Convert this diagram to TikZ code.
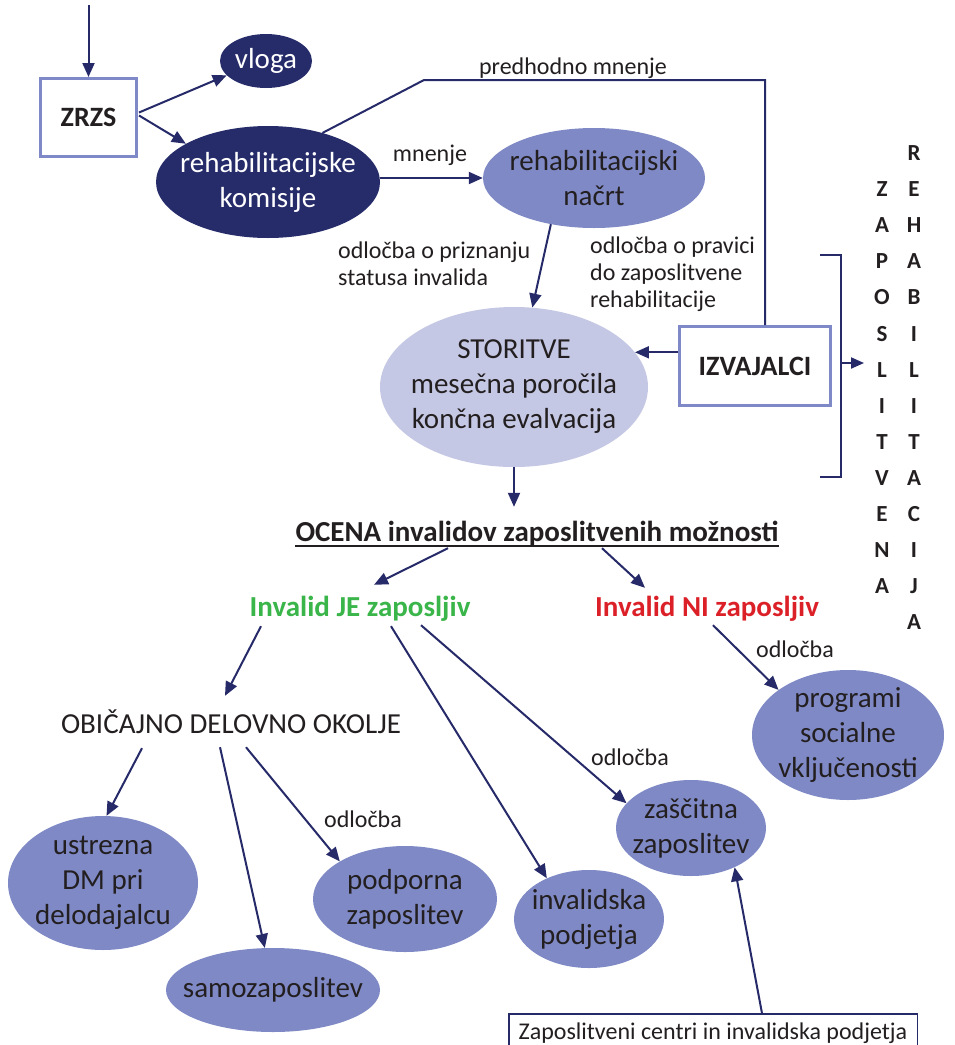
\documentclass[tikz,border=0pt]{standalone}
\usepackage{fontspec}
\setmainfont{Carlito}
\usetikzlibrary{shapes.geometric,arrows.meta,calc}
\definecolor{navy}{RGB}{38,42,104}
\definecolor{darkfill}{RGB}{38,43,105}
\definecolor{midfill}{RGB}{127,137,197}
\definecolor{lightfill}{RGB}{197,200,228}
\definecolor{boxline}{RGB}{128,137,200}
\definecolor{txt}{RGB}{35,31,32}
\definecolor{okgreen}{RGB}{57,181,74}
\definecolor{nored}{RGB}{220,32,40}
\begin{document}
\begin{tikzpicture}[x=1pt,y=-1pt,
  conn/.style={draw=navy,line width=2pt},
  arr/.style={conn,-{Triangle[length=14pt,width=12pt]}},
  ell/.style={ellipse,inner sep=-16pt,align=center,font=\fontsize{29}{35}\selectfont,text=txt},
  darkell/.style={ell,fill=darkfill,text=white},
  midell/.style={ell,fill=midfill},
  lightell/.style={ell,fill=lightfill},
  bigbox/.style={rectangle,draw=boxline,line width=3pt,fill=white,inner sep=0pt,font=\fontsize{28}{34}\selectfont\bfseries,text=txt},
  lbl/.style={inner sep=0pt,anchor=base,font=\fontsize{24}{27}\selectfont,text=txt},
  lblw/.style={lbl,anchor=base west},
  head/.style={inner sep=0pt,anchor=base,font=\fontsize{29}{35}\selectfont\bfseries,text=txt,text height=20pt,text depth=7pt},
  letter/.style={inner sep=0pt,font=\fontsize{23}{28}\selectfont\bfseries,text=txt,text height=15pt,text depth=0pt},
]
\useasboundingbox (0,0) rectangle (954,1045);
\clip (0,0) rectangle (954,1045);
\fill[white] (0,0) rectangle (954,1045);

% boxes and ellipses
\node[bigbox,minimum width=96pt,minimum height=78pt] (zrzs) at (88.5,117.5) {ZRZS};
\node[darkell,minimum width=92pt,minimum height=54pt] (vloga) at (266,61) {vloga};
\node[darkell,minimum width=224pt,minimum height=112pt] (kom) at (268,182) {rehabilitacijske\\komisije};
\node[midell,minimum width=222pt,minimum height=100pt] (nacrt) at (594,178) {rehabilitacijski\\načrt};
\node[lightell,minimum width=268pt,minimum height=160pt] (stor) at (514,387) {STORITVE\\mesečna poročila\\končna evalvacija};
\node[bigbox,minimum width=151pt,minimum height=79pt] (izv) at (755,366) {IZVAJALCI};

\node[head] (ocena) at (537,541) {OCENA invalidov zaposlitvenih možnosti};
\node[head,text=okgreen] (je) at (360,616) {Invalid JE zaposljiv};
\node[head,text=nored] (ni) at (707,616) {Invalid NI zaposljiv};
\node[inner sep=0pt,anchor=base,font=\fontsize{29}{35}\selectfont,text=txt,text height=19pt,text depth=0pt] (obic) at (231,733) {OBIČAJNO DELOVNO OKOLJE};

\node[midell,minimum width=190pt,minimum height=134pt] (ustr) at (103,883) {ustrezna\\DM pri\\delodajalcu};
\node[midell,minimum width=214pt,minimum height=84pt] (samo) at (273,990) {samozaposlitev};
\node[midell,minimum width=184pt,minimum height=106pt] (podp) at (405,899) {podporna\\zaposlitev};
\node[midell,minimum width=150pt,minimum height=98pt] (invpod) at (589,919) {invalidska\\podjetja};
\node[midell,minimum width=150pt,minimum height=96pt] (zasc) at (691,828) {zaščitna\\zaposlitev};
\node[midell,minimum width=192pt,minimum height=130pt] (prog) at (848,735) {programi\\socialne\\vključenosti};

\node[rectangle,draw=navy,line width=1.5pt,fill=white,inner xsep=0pt,inner ysep=8pt,minimum width=408.5pt,text height=17pt,text depth=5pt,anchor=base,font=\fontsize{24}{27}\selectfont,text=txt] (zcbox) at (713,1039) {Zaposlitveni centri in invalidska podjetja};

% vertical letters
\foreach \c [count=\i from 0] in {R,E,H,A,B,I,L,I,T,A,C,I,J,A}
  \node[letter] (r\i) at (914,{153+36.1*\i}) {\c};
\foreach \c [count=\i from 1] in {Z,A,P,O,S,L,I,T,V,E,N,A}
  \node[letter] (z\i) at (882,{153+36.1*\i}) {\c};

% labels
\node[lbl] (lmn) at (430,161) {mnenje};
\node[lbl] (lpm) at (573,74) {predhodno mnenje};
\node[lblw] (lsa) at (338,258) {odločba o priznanju};
\node[lblw] (lsb) at (338,285) {statusa invalida};
\node[lblw] (lra) at (590,253) {odločba o pravici};
\node[lblw] (lrb) at (590,280) {do zaposlitvene};
\node[lblw] (lrc) at (590,307) {rehabilitacije};
\node[lbl] (lo1) at (363,827) {odločba};
\node[lbl] (lo2) at (630,765) {odločba};
\node[lbl] (lo3) at (795,657) {odločba};

% connectors
\coordinate (topstart) at (88.5,5);
\draw[arr] (topstart) -- (zrzs.north);
\draw[arr] ($(zrzs.east)+(1,-5)$) -- (vloga.200);
\draw[arr] ($(zrzs.east)+(1,-2)$) -- (kom.155);
\coordinate (pm1) at (424,80);
\coordinate (pm2) at (765,80);
\draw[conn] (kom.42) -- (pm1) -- (pm2) -- (pm2 |- izv.north);
\draw[arr] (kom.east |- nacrt.west) -- (nacrt.west);
\draw[arr] (nacrt.227) -- (stor.77.5);
\draw[arr] (izv.west |- stor.16) -- (stor.16);
\draw[arr] (stor.south) -- ($(stor.south |- ocena.north)+(0,-14)$);
\draw[line width=1.5pt,draw=txt] ($(ocena.base west)+(0,5)$) -- ($(ocena.base east)+(0,5)$);
\draw[arr] ($(ocena.south)+(-89,0)$) -- ($(je.north)+(14,-11)$);
\draw[arr] ($(ocena.south)+(65,0)$) -- ($(ni.north)+(-62,-8)$);
\draw[arr] ($(je.south)+(-99,3)$) -- ($(obic.north)+(-6,-18)$);
\draw[arr] ($(je.south)+(31,3)$) -- (invpod.136);
\draw[arr] ($(je.south)+(61,2)$) -- (zasc.159);
\draw[arr] ($(ni.south)+(6,2)$) -- (prog.147);
\draw[arr] ($(obic.south)+(-89,15)$) -- (ustr.87);
\draw[arr] ($(obic.south)+(-11,14)$) -- (samo.101);
\draw[arr] ($(obic.south)+(15,14)$) -- (podp.150);
\draw[arr] ($(zcbox.north)+(49,0)$) -- (zasc.-42);

% bracket
\coordinate (b1) at (820,255);
\coordinate (b2) at (841,255);
\coordinate (b3) at (841,477);
\coordinate (b4) at (820,477);
\coordinate (b5) at (841,363);
\coordinate (b6) at (864,363);
\draw[conn] (b1) -- (b2) -- (b3) -- (b4);
\draw[conn,-{Triangle[length=13pt,width=11pt]}] (b5) -- (b6);
\end{tikzpicture}
\end{document}
